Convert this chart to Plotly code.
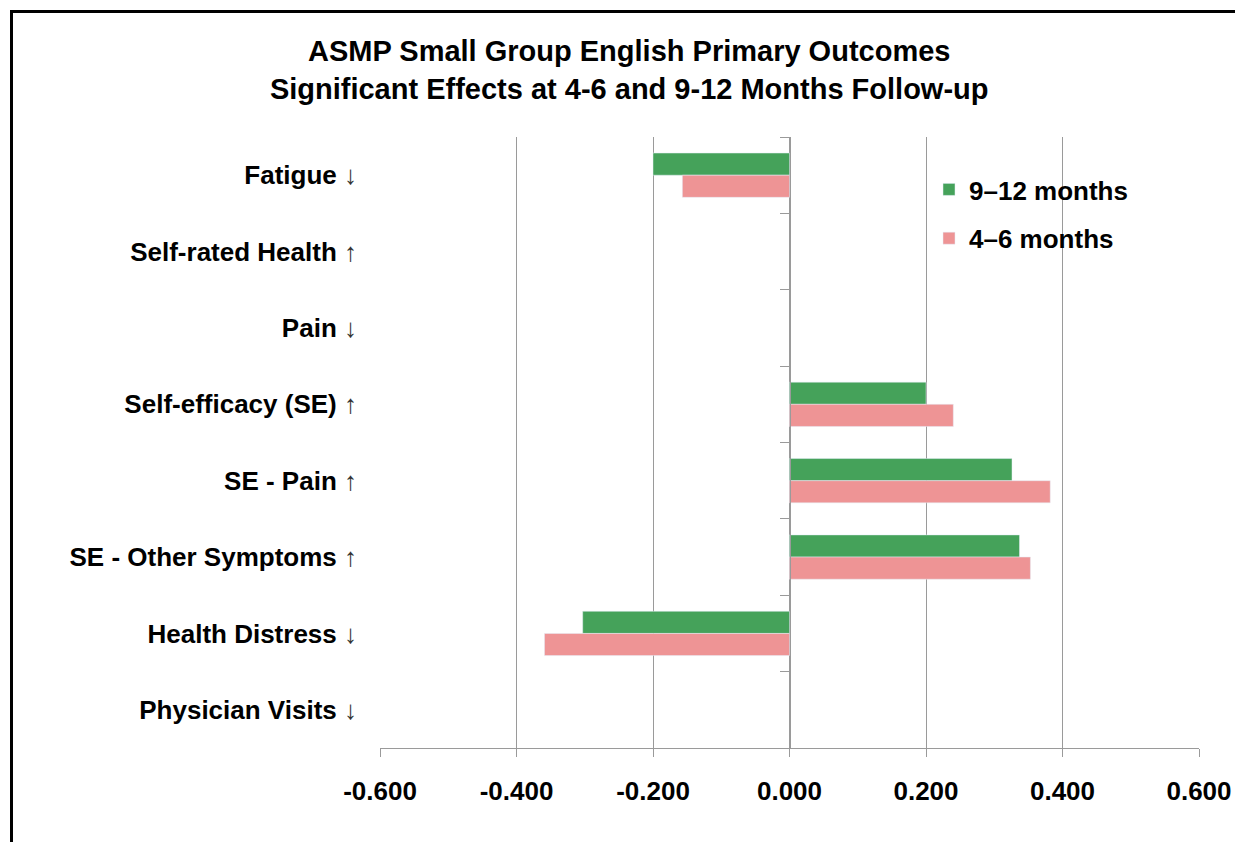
import plotly.graph_objects as go

categories = ["Fatigue", "Self-rated Health", "Pain", "Self-efficacy (SE)",
              "SE - Pain", "SE - Other Symptoms", "Health Distress", "Physician Visits"]
arrows = ["↓", "↑", "↓", "↑", "↑", "↑", "↓", "↓"]
months_9_12 = [-0.200, None, None, 0.200, 0.326, 0.337, -0.303, None]
months_4_6 = [-0.157, None, None, 0.240, 0.382, 0.353, -0.359, None]
x_ticks = [-0.6, -0.4, -0.2, 0.0, 0.2, 0.4, 0.6]
x_tick_labels = ["-0.600", "-0.400", "-0.200", "0.000", "0.200", "0.400", "0.600"]

tick_text = [f"{c} <span style='font-weight:normal;color:#333333'>{a}</span>" for c, a in zip(categories, arrows)]

OFF = 8  # page body margin
W, H = 1243 - OFF, 842 - OFF
# plot area in page pixels
L, R, T, B = 380 - OFF, 1199 - OFF, 137 - OFF, 748 - OFF

fig = go.Figure()
fig.add_trace(go.Bar(y=categories, x=months_9_12, orientation="h", name="9–12 months",
                     marker_color="#45A25A", legendgroup="a"))
fig.add_trace(go.Bar(y=categories, x=months_4_6, orientation="h", name="4–6 months",
                     marker_color="#EE9495", legendgroup="b"))
fig.add_trace(go.Scatter(y=categories, x=[0] * len(categories), yaxis="y2", mode="markers",
                         marker=dict(opacity=0), showlegend=False, hoverinfo="skip"))

font_family = "Liberation Sans, Arial, sans-serif"

def px_x(p):
    return (p - OFF - L) / (R - L)

def px_y(p):
    return (B - (p - OFF)) / (B - T)

fig.update_layout(
    width=W, height=H,
    margin=dict(l=L, r=W - R, t=T, b=H - B, pad=0),
    paper_bgcolor="white", plot_bgcolor="white",
    barmode="group", bargap=0.42, bargroupgap=0,
    font=dict(family=font_family, color="black"),
    title=dict(text="<b>ASMP Small Group English Primary Outcomes<br>Significant Effects at 4-6 and 9-12 Months Follow-up</b>",
               x=0.503, xanchor="center", y=1 - 53 / H, yanchor="middle",
               font=dict(size=29, family=font_family, color="black")),
    xaxis=dict(range=[-0.6, 0.6], tickvals=x_ticks, ticktext=x_tick_labels,
               showgrid=True, gridcolor="#9A9A9A", gridwidth=1.3,
               zeroline=False, showline=True, linecolor="#9A9A9A", linewidth=1.3,
               ticks="outside", ticklen=8, tickcolor="#9A9A9A", tickwidth=1.3,
               tickfont=dict(size=26, family=font_family, color="black", weight="bold"),
               ticklabelstandoff=12),
    yaxis=dict(type="category", categoryorder="array", categoryarray=categories,
               autorange="reversed", tickvals=categories, ticktext=tick_text,
               showgrid=False, zeroline=False, showline=False, ticks="",
               tickfont=dict(size=26, family=font_family, color="black", weight="bold"),
               ticklabelstandoff=22),
    yaxis2=dict(type="category", overlaying="y", matches="y", anchor="free", position=0.5,
                side="left", showticklabels=False, showgrid=False, zeroline=False,
                showline=True, linecolor="#9A9A9A", linewidth=1.3,
                ticks="outside", tickson="boundaries", ticklen=9, tickcolor="#9A9A9A", tickwidth=1.3),
    legend=dict(x=px_x(929), y=px_y(166), xanchor="left", yanchor="top",
                font=dict(size=26, family=font_family, color="black", weight="bold"),
                traceorder="grouped", tracegroupgap=12, bgcolor="rgba(0,0,0,0)",
                itemwidth=30),
    showlegend=True,
    shapes=[dict(type="rect", xref="paper", yref="paper",
                 x0=px_x(11.5), x1=px_x(1300), y0=px_y(900), y1=px_y(11.5),
                 line=dict(color="black", width=3), fillcolor="rgba(0,0,0,0)", layer="above")],
)

fig.write_html("out.html")
